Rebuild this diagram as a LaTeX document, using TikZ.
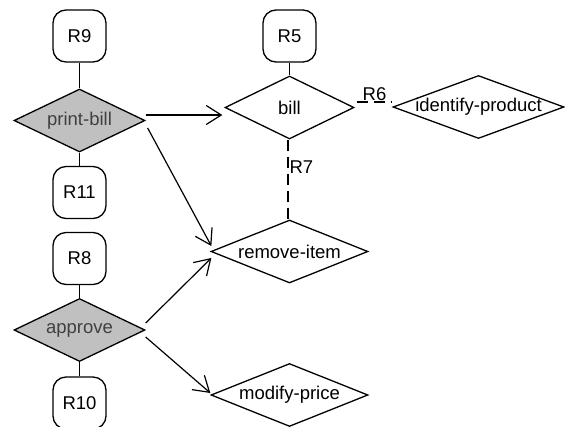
\documentclass[tikz,border=0pt]{standalone}
\usepackage{fontspec}
\setmainfont{Liberation Sans}
\usetikzlibrary{shapes.geometric,arrows.meta}
\definecolor{dfill}{HTML}{C0C0C0}
\definecolor{dtext}{HTML}{404040}
\tikzset{
  base/.style={line width=1.3pt, font=\fontsize{18.5pt}{20pt}\selectfont, inner sep=0pt},
  rbox/.style={base, draw, rounded corners=13pt, minimum width=53pt, minimum height=52pt},
  dia/.style={base, draw, diamond, minimum height=63pt},
  grey/.style={fill=dfill, text=dtext},
  conn/.style={line width=1.2pt},
  arr/.style={line width=1.2pt, -{Straight Barb[length=15pt,width=19pt,line width=1.2pt]}},
  dsh/.style={line width=1.1pt, dash pattern=on 11pt off 6pt},
  lbl/.style={font=\fontsize{18.5pt}{20pt}\selectfont, inner sep=1pt}
}
\begin{document}
\begin{tikzpicture}[x=1pt,y=-1pt]
\useasboundingbox (0,0) rectangle (565,426);
% relationship boxes
\node[rbox] (r9)  at (79.5,36) {R9};
\node[rbox] (r11) at (79.5,192.5) {R11};
\node[rbox] (r8)  at (79.5,258.5) {R8};
\node[rbox] (r10) at (79.5,403) {R10};
\node[rbox] (r5)  at (289.5,36) {R5};
% diamonds
\node[dia,grey,minimum width=131pt] (pb) at (79.5,120.5) {\makebox[0pt]{print-bill}};
\node[dia,grey,minimum width=131pt] (ap) at (79.5,330) {\makebox[0pt]{approve}};
\node[dia,minimum width=129pt] (bill) at (289.5,107.5) {\makebox[0pt]{bill}};
\node[dia,minimum width=171pt] (ip) at (478.5,107) {\makebox[0pt]{identify-product}};
\node[dia,minimum width=157pt] (ri) at (289.5,251.5) {\makebox[0pt]{remove-item}};
\node[dia,minimum width=157pt] (mp) at (289.5,395) {\makebox[0pt]{modify-price}};
% stems
\draw[conn] (r9.south) -- (pb.north);
\draw[conn] (pb.south) -- (r11.north);
\draw[conn] (r8.south) -- (ap.north);
\draw[conn] (ap.south) -- (r10.north);
\draw[conn] (r5.south) -- (bill.north);
% arrows
\draw[arr] ([yshift=5.5pt]pb.east) -- ([xshift=-2pt,yshift=-7.5pt]bill.west);
\draw[arr] ([xshift=2pt,yshift=-7.5pt]pb.east) -- ([xshift=1pt,yshift=5.5pt]ri.west);
\draw[arr] ([yshift=7pt]ap.east) -- ([xshift=1pt,yshift=-6.5pt]ri.west);
\draw[arr] ([yshift=-7pt]ap.east) -- ([yshift=2pt]mp.west);
% dashed relationships
\draw[dsh] ([xshift=2pt,yshift=5.5pt]bill.east) -- node[lbl,above] (r6) {R6} ([yshift=5pt]ip.west);
\draw[dsh] ([xshift=-1.5pt]bill.south) -- node[lbl,right,pos=0.35] (r7) {R7} ([xshift=-1.5pt]ri.north);
\end{tikzpicture}
\end{document}
